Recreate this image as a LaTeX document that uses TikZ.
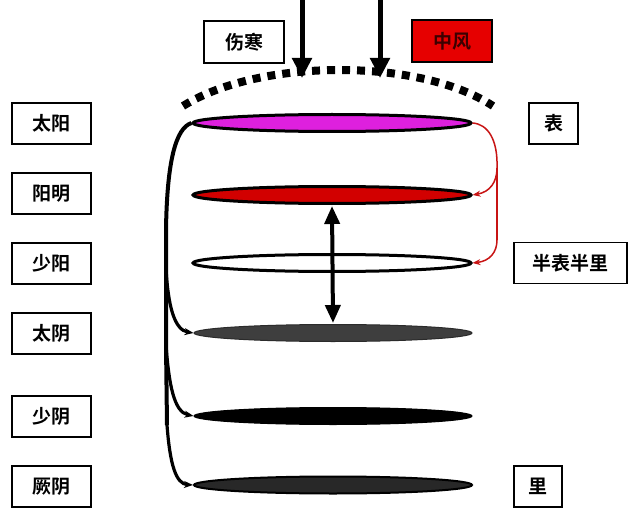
\documentclass[tikz,border=0pt]{standalone}
\usepackage{fontspec}
\newfontfamily\cjk{Noto Sans CJK SC Bold}
\usetikzlibrary{shapes.geometric,arrows.meta}
\definecolor{discpurple}{RGB}{222,32,222}
\definecolor{discred}{RGB}{210,0,0}
\definecolor{boxred}{RGB}{230,0,0}
\definecolor{arrred}{RGB}{200,20,20}
\definecolor{discgrey}{RGB}{62,62,62}
\definecolor{discdark}{RGB}{40,40,40}
\definecolor{fengtext}{RGB}{60,0,0}
\tikzset{
  lab/.style={draw=black, line width=1.4pt, fill=white, text=black, inner sep=0pt, font=\cjk\fontsize{19}{19}\selectfont, minimum height=41pt},
  lbox/.style={lab, minimum width=79pt},
  disc/.style={ellipse, minimum width=278pt, minimum height=17pt, inner sep=0pt, draw=black, line width=3pt},
  bigarrow/.style={line width=5pt, -{Triangle[width=19pt,length=20pt]}},
  redarrow/.style={draw=arrred, line width=1.5pt, -{Stealth[length=8pt,width=6pt]}},
  blackarrow/.style={line width=3.2pt, -{Stealth[length=9pt,width=7pt]}},
}
\begin{document}
\begin{tikzpicture}[x=1pt,y=-1pt]
\useasboundingbox[fill=white] (0,0) rectangle (640,524);
% left labels
\node[lbox] (taiyang) at (51.5,123.5) {太阳};
\node[lbox] (yangming) at (51.5,193.5) {阳明};
\node[lbox] (shaoyang) at (51.5,263.5) {少阳};
\node[lbox] (taiyin) at (51.5,333.5) {太阴};
\node[lbox] (shaoyin) at (51.5,416.5) {少阴};
\node[lbox] (jueyin) at (51.5,486.5) {厥阴};
% right labels
\node[lab, minimum width=49pt] (biao) at (553.5,123.5) {表};
\node[lab, minimum width=113pt] (banbiao) at (570.5,263) {半表半里};
\node[lab, minimum width=48pt] (li) at (538,486.5) {里};
% top labels
\node[lab, minimum width=80pt, minimum height=42pt] (shanghan) at (244,42) {伤寒};
\node[lab, minimum width=80pt, minimum height=42pt, fill=boxred] (zhongfeng) at (452,41) {\color{fengtext}中风};
% discs
\node[disc, fill=discpurple] (d1) at (332,123) {};
\node[disc, fill=discred] (d2) at (332,195) {};
\node[disc, fill=white] (d3) at (332,263) {};
\node[disc, fill=discgrey, draw=discgrey!70!black, line width=1pt] (d4) at (333,333) {};
\node[disc, fill=black, line width=1pt] (d5) at (333,416) {};
\node[disc, fill=discdark, line width=2pt] (d6) at (333,485) {};
% dotted surface
\draw[line width=8pt, dash pattern=on 8pt off 7pt] (183,106) .. controls (260,58) and (420,58) .. (493,106);
% incoming arrows
\coordinate (a1s) at (302,0);
\coordinate (a1e) at (302,78);
\coordinate (a2s) at (380,0);
\coordinate (a2e) at (380,78);
\draw[bigarrow] (a1s) -- (a1e);
\draw[bigarrow] (a2s) -- (a2e);
% double arrow
\draw[line width=4pt, {Triangle[width=15pt,length=18pt]}-{Triangle[width=15pt,length=18pt]}] ([yshift=-1pt]d2.south) -- ([yshift=1pt]d4.north);
% left black paths
\coordinate (m1) at (166,268);
\coordinate (m2) at (166,345);
\coordinate (m3) at (167,425);
\draw[line width=4pt] (d1.west) .. controls (176,128) and (167,160) .. (166,230) -- (m1) -- (m2) -- (m3);
\draw[blackarrow] (m1) .. controls (168,305) and (174,330) .. (d4.west);
\draw[blackarrow] (m2) .. controls (169,385) and (174,412) .. (d5.west);
\draw[blackarrow] (m3) .. controls (170,465) and (176,484) .. (d6.west);
% right red paths
\coordinate (r1) at (497,168);
\coordinate (r2) at (497,240);
\draw[draw=arrred, line width=1.5pt] (d1.east) .. controls (488,124) and (498,140) .. (r1);
\draw[redarrow] (r1) .. controls (497,182) and (490,192) .. (d2.east);
\draw[draw=arrred, line width=1.5pt] (r1) -- (r2);
\draw[redarrow] (r2) .. controls (497,252) and (490,261) .. (d3.east);
\end{tikzpicture}
\end{document}
